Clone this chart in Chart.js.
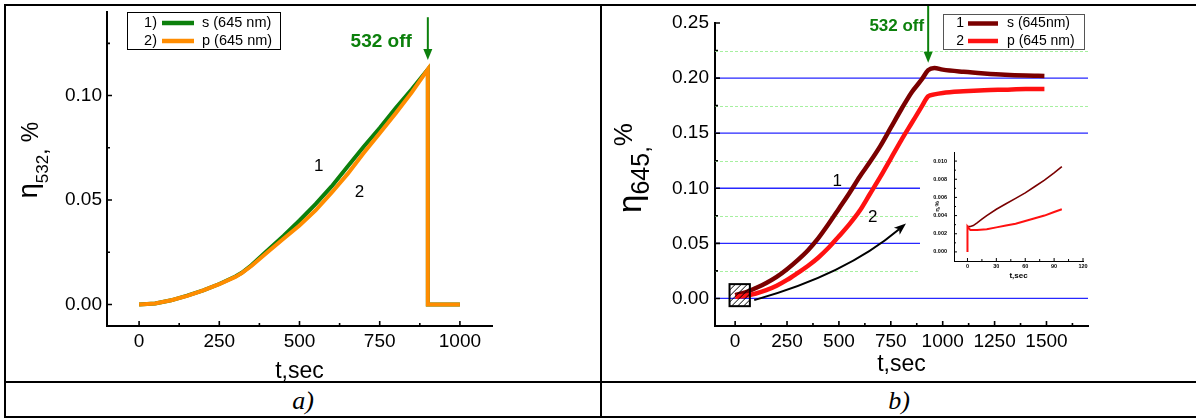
<!DOCTYPE html>
<html>
<head>
<meta charset="utf-8">
<script src="https://cdn.jsdelivr.net/npm/chart.js@4"></script>
<style>
  body { margin: 0; background: #fff; width: 1196px; height: 419px; overflow: hidden; position: relative; }
  canvas { position: absolute; }
  .rule { position: absolute; background: #000; }
  .cap { position: absolute; top: 386px; width: 594px; text-align: center; font: italic 26px "Liberation Serif", serif; }
</style>
</head>
<body>
<div class="rule" style="left:4px;top:4px;width:1192px;height:2px"></div>
<div class="rule" style="left:4px;top:4px;width:2px;height:414px"></div>
<div class="rule" style="left:600px;top:4px;width:2px;height:414px"></div>
<div class="rule" style="left:4px;top:381px;width:1192px;height:2px"></div>
<div class="rule" style="left:4px;top:416px;width:1192px;height:2px"></div>

<canvas id="ca" width="594" height="375" style="left:6px;top:6px"></canvas>
<canvas id="cb" width="594" height="375" style="left:602px;top:6px"></canvas>
<canvas id="ci" width="172" height="153" style="left:920px;top:143px;background:#fff"></canvas>

<div class="cap" style="left:6px">a)</div>
<div class="cap" style="left:602px">b)</div>

<script>
// ---------- panel a ----------
const tA = [0, 50, 100, 150, 200, 250, 300, 320, 350, 400, 450, 500, 550, 600, 650, 700, 750, 800, 850, 900, 900, 1000];
const sA = [0, 0.0005, 0.002, 0.0042, 0.0068, 0.0098, 0.0134, 0.0152, 0.0188, 0.0258, 0.0328, 0.0402, 0.048, 0.0565, 0.066, 0.0755, 0.0845, 0.094, 0.103, 0.1125, 0, 0];
const pA = [0, 0.0005, 0.002, 0.0041, 0.0067, 0.0097, 0.0132, 0.015, 0.0184, 0.025, 0.0315, 0.0378, 0.045, 0.0535, 0.0625, 0.0725, 0.082, 0.0915, 0.1015, 0.1125, 0, 0];
const namesA = ['s (645 nm)', 'p (645 nm)'];
const tagsA = ['1)', '2)'];
const colorsA = ['#0c800c', '#ff8c00'];
const xTicksA = [0, 250, 500, 750, 1000];
const xMinorA = [125, 375, 625, 875];
const yTicksA = [0, 0.05, 0.10];
const yMinorA = [0.025, 0.075, 0.125];

// ---------- panel b ----------
const tB = [0, 50, 100, 150, 200, 250, 300, 350, 400, 450, 500, 550, 600, 650, 700, 750, 800, 850, 900, 930, 960, 1000, 1100, 1200, 1300, 1400, 1490];
const sB = [0.003, 0.0055, 0.0095, 0.014, 0.0195, 0.0265, 0.0345, 0.0435, 0.0545, 0.0675, 0.0815, 0.0955, 0.1105, 0.124, 0.1385, 0.155, 0.1715, 0.187, 0.199, 0.2072, 0.2092, 0.2077, 0.2057, 0.2042, 0.203, 0.2023, 0.202];
const pB = [0.0015, 0.0025, 0.0045, 0.0075, 0.0115, 0.0168, 0.023, 0.0295, 0.037, 0.046, 0.0565, 0.0672, 0.0795, 0.095, 0.1105, 0.127, 0.1435, 0.159, 0.1745, 0.1835, 0.1852, 0.1865, 0.188, 0.189, 0.1895, 0.19, 0.19];
const namesB = ['s (645nm)', 'p (645 nm)'];
const tagsB = ['1', '2'];
const colorsB = ['#7a0000', '#ff1111'];
const xTicksB = [0, 250, 500, 750, 1000, 1250, 1500];
const xMinorB = [125, 375, 625, 875, 1125, 1375, 1625];
const yTicksB = [0, 0.05, 0.10, 0.15, 0.20, 0.25];
const yMinorB = [0.025, 0.075, 0.125, 0.175, 0.225];

// ---------- inset of b ----------
const tInS = [0, 3, 6, 10, 15, 20, 30, 40, 50, 60, 70, 80, 90, 98];
const sIn = [0.0028, 0.0028, 0.0029, 0.0032, 0.0036, 0.004, 0.0047, 0.0053, 0.0059, 0.0065, 0.0072, 0.0079, 0.0087, 0.0094];
const tInP = [0, 0, 3, 10, 20, 30, 40, 50, 60, 70, 80, 90, 98];
const pIn = [0, 0.0028, 0.0024, 0.0024, 0.0025, 0.0027, 0.0029, 0.0031, 0.0034, 0.0037, 0.004, 0.0044, 0.0047];
const xTicksIn = [0, 30, 60, 90, 120];
const xMinorIn = [15, 45, 75, 105];
const yTicksIn = [0, 0.002, 0.004, 0.006, 0.008, 0.010];
const yMinorIn = [0.001, 0.003, 0.005, 0.007, 0.009];

const laserOff = 900;      // 532 nm switched off (panel a)
const laserOffB = 930;     // same moment on panel b's time axis

Chart.defaults.font.family = '"Liberation Sans", Arial, sans-serif';
Chart.defaults.color = '#000';

const pts = (xs, ys) => xs.map((x, i) => ({ x, y: ys[i] }));

function inwardTicks(chart, xMaj, xMin, yMaj, yMin, len, lw) {
  const { ctx, chartArea: a, scales: { x, y } } = chart;
  ctx.save();
  ctx.strokeStyle = '#000';
  ctx.lineWidth = lw;
  ctx.beginPath();
  xMaj.forEach(v => { const p = x.getPixelForValue(v); ctx.moveTo(p, a.bottom); ctx.lineTo(p, a.bottom - len[0]); });
  xMin.forEach(v => { const p = x.getPixelForValue(v); ctx.moveTo(p, a.bottom); ctx.lineTo(p, a.bottom - len[1]); });
  yMaj.forEach(v => { const p = y.getPixelForValue(v); ctx.moveTo(a.left, p); ctx.lineTo(a.left + len[0], p); });
  yMin.forEach(v => { const p = y.getPixelForValue(v); ctx.moveTo(a.left, p); ctx.lineTo(a.left + len[1], p); });
  ctx.stroke();
  ctx.restore();
}

// rotated axis title made of pieces (for the subscripts)
function rotTitle(ctx, cx, cy, parts) {
  ctx.save();
  ctx.translate(cx, cy);
  ctx.rotate(-Math.PI / 2);
  let w = 0;
  parts.forEach(p => { ctx.font = p.f; p.w = ctx.measureText(p.t).width; w += p.w; });
  let x = -w / 2;
  ctx.fillStyle = '#000';
  ctx.textBaseline = 'alphabetic';
  parts.forEach(p => { ctx.font = p.f; ctx.fillText(p.t, x, p.dy); x += p.w; });
  ctx.restore();
}

function arrowDown(ctx, px, y0, y1, color) {
  ctx.save();
  ctx.strokeStyle = color;
  ctx.fillStyle = color;
  ctx.lineWidth = 2;
  ctx.beginPath(); ctx.moveTo(px, y0); ctx.lineTo(px, y1 - 8); ctx.stroke();
  ctx.beginPath(); ctx.moveTo(px - 4.5, y1 - 11); ctx.lineTo(px + 4.5, y1 - 11); ctx.lineTo(px, y1); ctx.closePath(); ctx.fill();
  ctx.restore();
}

function legendBox(ctx, box, rows, font, stroke) {
  ctx.save();
  ctx.fillStyle = '#fff';
  ctx.fillRect(box.x, box.y, box.w, box.h);
  ctx.strokeStyle = stroke;
  ctx.lineWidth = 1;
  ctx.strokeRect(box.x + 0.5, box.y + 0.5, box.w, box.h);
  ctx.font = font;
  ctx.textBaseline = 'middle';
  rows.forEach(r => {
    ctx.fillStyle = '#000';
    ctx.textAlign = 'right';
    ctx.fillText(r.tag, box.tagX, r.y);
    ctx.textAlign = 'left';
    ctx.fillText(r.text, box.textX, r.y);
    ctx.strokeStyle = r.color;
    ctx.lineWidth = 4.5;
    ctx.beginPath(); ctx.moveTo(box.l0, r.y); ctx.lineTo(box.l1, r.y); ctx.stroke();
  });
  ctx.restore();
}

function label(ctx, txt, px, py, font, color) {
  ctx.save();
  ctx.font = font;
  ctx.fillStyle = color;
  ctx.textAlign = 'center';
  ctx.textBaseline = 'middle';
  ctx.fillText(txt, px, py);
  ctx.restore();
}

// axes with fixed sizes so the plot box lands where the reference has it
function fixedScales(xr, yr, xw, yw, o) {
  const noPad = s => { s.paddingTop = s.paddingBottom = s.paddingLeft = s.paddingRight = 0; };
  return {
    x: {
      type: 'linear', min: xr[0], max: xr[1],
      afterFit: s => { s.height = xw; noPad(s); },
      afterBuildTicks: s => { s.ticks = o.xt.map(v => ({ value: v })); },
      grid: { display: false, drawTicks: false },
      border: { display: true, width: o.bw, color: '#000' },
      ticks: { font: o.tf, padding: o.xp, maxRotation: 0, autoSkip: false, callback: v => String(v) },
      title: o.xTitle
    },
    y: {
      type: 'linear', min: yr[0], max: yr[1],
      afterFit: s => { s.width = yw; noPad(s); },
      afterBuildTicks: s => { s.ticks = o.yt.map(v => ({ value: v })); },
      grid: { display: false, drawTicks: false },
      border: { display: true, width: o.bw, color: '#000' },
      ticks: { font: o.tf, padding: o.yp, autoSkip: false, callback: v => v.toFixed(o.dec) },
      title: o.yTitle || { display: false }
    }
  };
}

const lineOpts = { point: { radius: 0 }, line: { tension: 0, fill: false } };

// ---------- chart a ----------
const decoA = {
  id: 'decoA',
  afterDraw(chart) {
    const { ctx, scales: { x, y } } = chart;
    inwardTicks(chart, xTicksA, xMinorA, yTicksA, yMinorA, [5, 3], 1.6);
    rotTitle(ctx, 31, 154, [
      { t: 'η', f: '27px "Liberation Sans"', dy: 0 },
      { t: '532', f: '17px "Liberation Sans"', dy: 11 },
      { t: ',', f: '22px "Liberation Sans"', dy: 10 },
      { t: ' %', f: '23px "Liberation Sans"', dy: 1 }
    ]);
    const ax = x.getPixelForValue(laserOff);
    arrowDown(ctx, ax, y.getPixelForValue(0.1375), y.getPixelForValue(0.117), '#0c800c');
    ctx.save();
    ctx.font = 'bold 19px "Liberation Sans"';
    ctx.fillStyle = '#0c800c';
    ctx.textAlign = 'right';
    ctx.textBaseline = 'middle';
    ctx.fillText('532 off', ax - 16, 36);
    ctx.restore();
    label(ctx, '1', x.getPixelForValue(560), y.getPixelForValue(0.0663), '17px "Liberation Sans"', '#000');
    label(ctx, '2', x.getPixelForValue(687), y.getPixelForValue(0.0539), '17px "Liberation Sans"', '#000');
    legendBox(ctx, { x: 121, y: 6, w: 153, h: 37, tagX: 151, l0: 156, l1: 188, textX: 196 },
      namesA.map((n, i) => ({ tag: tagsA[i], text: n, color: colorsA[i], y: 17 + i * 18 })),
      '14.5px "Liberation Sans"', '#000');
  }
};

new Chart(document.getElementById('ca'), {
  type: 'line',
  data: {
    datasets: [
      { label: namesA[0], data: pts(tA, sA), borderColor: colorsA[0], borderWidth: 4, order: 2 },
      { label: namesA[1], data: pts(tA, pA), borderColor: colorsA[1], borderWidth: 4, order: 1 }
    ]
  },
  options: {
    responsive: false, animation: false,
    layout: { padding: { left: 0, top: 6, right: 108, bottom: 0 }, autoPadding: false },
    elements: lineOpts,
    plugins: { legend: { display: false }, tooltip: { enabled: false } },
    scales: fixedScales([-100, 1100], [-0.0103, 0.14], 55, 101, {
      xt: xTicksA, yt: yTicksA, bw: 2, tf: { size: 19 }, xp: 4, yp: 5, dec: 2,
      xTitle: { display: true, text: 't,sec', font: { size: 23, lineHeight: 1 }, padding: { top: 0, bottom: -2 } }
    })
  },
  plugins: [decoA]
});

// ---------- chart b ----------
const decoB = {
  id: 'decoB',
  beforeDatasetsDraw(chart) {
    const { ctx, chartArea: a, scales: { y } } = chart;
    ctx.save();
    ctx.lineWidth = 1;
    ctx.strokeStyle = '#a6f0a0';
    ctx.setLineDash([3, 2]);
    ctx.beginPath();
    yMinorB.forEach(v => { const p = Math.round(y.getPixelForValue(v)) + 0.5; ctx.moveTo(a.left, p); ctx.lineTo(a.right, p); });
    ctx.stroke();
    ctx.setLineDash([]);
    ctx.strokeStyle = '#2727ff';
    ctx.lineWidth = 1.3;
    ctx.beginPath();
    yTicksB.slice(0, -1).forEach(v => { const p = y.getPixelForValue(v); ctx.moveTo(a.left, p); ctx.lineTo(a.right, p); });
    ctx.stroke();
    ctx.restore();
  },
  afterDraw(chart) {
    const { ctx, scales: { x, y } } = chart;
    inwardTicks(chart, xTicksB, xMinorB, yTicksB, yMinorB, [5, 3], 1.6);
    rotTitle(ctx, 39, 162, [
      { t: 'η', f: '33px "Liberation Sans"', dy: 0 },
      { t: '645', f: '25px "Liberation Sans"', dy: 8 },
      { t: ',', f: '24px "Liberation Sans"', dy: 8 },
      { t: '%', f: '26px "Liberation Sans"', dy: -9 }
    ]);
    // hatched box marking the zoomed start
    const bx0 = x.getPixelForValue(-27), bx1 = x.getPixelForValue(71);
    const by0 = y.getPixelForValue(0.013), by1 = y.getPixelForValue(-0.007);
    ctx.save();
    ctx.beginPath(); ctx.rect(bx0, by0, bx1 - bx0, by1 - by0); ctx.clip();
    ctx.strokeStyle = '#000'; ctx.lineWidth = 1;
    ctx.beginPath();
    for (let k = -(by1 - by0); k < bx1 - bx0; k += 6) { ctx.moveTo(bx0 + k, by1); ctx.lineTo(bx0 + k + (by1 - by0), by0); }
    ctx.stroke();
    ctx.restore();
    ctx.save();
    ctx.lineWidth = 2; ctx.strokeStyle = '#000';
    ctx.strokeRect(bx0, by0, bx1 - bx0, by1 - by0);
    // curved arrow towards the inset
    const p0 = { x: x.getPixelForValue(92), y: y.getPixelForValue(-0.0015) };
    const p1 = { x: x.getPixelForValue(529), y: y.getPixelForValue(0.0213) };
    const p2 = { x: x.getPixelForValue(823), y: y.getPixelForValue(0.068) };
    const ang = Math.atan2(p2.y - p1.y, p2.x - p1.x);
    const hx = p2.x - 12 * Math.cos(ang), hy = p2.y - 12 * Math.sin(ang);
    ctx.beginPath(); ctx.moveTo(p0.x, p0.y); ctx.quadraticCurveTo(p1.x, p1.y, hx + 3 * Math.cos(ang), hy + 3 * Math.sin(ang)); ctx.stroke();
    ctx.fillStyle = '#000';
    ctx.beginPath();
    ctx.moveTo(p2.x, p2.y);
    ctx.lineTo(hx - 4.5 * Math.sin(ang), hy + 4.5 * Math.cos(ang));
    ctx.lineTo(hx + 3 * Math.cos(ang), hy + 3 * Math.sin(ang));
    ctx.lineTo(hx + 4.5 * Math.sin(ang), hy - 4.5 * Math.cos(ang));
    ctx.closePath(); ctx.fill();
    ctx.restore();
    const ax = x.getPixelForValue(laserOffB);
    arrowDown(ctx, ax, 0, y.getPixelForValue(0.214), '#0c800c');
    ctx.save();
    ctx.font = 'bold 17px "Liberation Sans"';
    ctx.fillStyle = '#0c800c';
    ctx.textAlign = 'right';
    ctx.textBaseline = 'middle';
    ctx.fillText('532 off', ax - 4, 20);
    ctx.restore();
    label(ctx, '1', x.getPixelForValue(492), y.getPixelForValue(0.1066), '17px "Liberation Sans"', '#000');
    label(ctx, '2', x.getPixelForValue(663), y.getPixelForValue(0.0733), '17px "Liberation Sans"', '#000');
    legendBox(ctx, { x: 341, y: 8, w: 141, h: 35, tagX: 362, l0: 366, l1: 396, textX: 405 },
      namesB.map((n, i) => ({ tag: tagsB[i], text: n, color: colorsB[i], y: 17.5 + i * 17.5 })),
      '14px "Liberation Sans"', '#555');
  }
};

new Chart(document.getElementById('cb'), {
  type: 'line',
  data: {
    datasets: [
      { label: namesB[0], data: pts(tB, sB), borderColor: colorsB[0], borderWidth: 4.5, cubicInterpolationMode: 'monotone', order: 2 },
      { label: namesB[1], data: pts(tB, pB), borderColor: colorsB[1], borderWidth: 4.5, cubicInterpolationMode: 'monotone', order: 1 }
    ]
  },
  options: {
    responsive: false, animation: false,
    layout: { padding: { left: 0, top: 17, right: 108, bottom: 0 }, autoPadding: false },
    elements: lineOpts,
    plugins: { legend: { display: false }, tooltip: { enabled: false } },
    scales: fixedScales([-97, 1700], [-0.025, 0.25], 55, 113, {
      xt: xTicksB, yt: yTicksB, bw: 2, tf: { size: 19 }, xp: 4, yp: 6, dec: 2,
      xTitle: { display: true, text: 't,sec', font: { size: 23, lineHeight: 1 }, padding: { top: 0, bottom: 4.5 } }
    })
  },
  plugins: [decoB]
});

// ---------- inset ----------
const decoIn = {
  id: 'decoIn',
  afterDraw(chart) {
    inwardTicks(chart, xTicksIn, xMinorIn, yTicksIn, yMinorIn, [3, 2], 1);
  }
};

new Chart(document.getElementById('ci'), {
  type: 'line',
  data: {
    datasets: [
      { label: namesB[0], data: pts(tInS, sIn), borderColor: colorsB[0], borderWidth: 1.6, order: 2 },
      { label: namesB[1], data: pts(tInP, pIn), borderColor: colorsB[1], borderWidth: 2, order: 1 }
    ]
  },
  options: {
    responsive: false, animation: false,
    layout: { padding: { left: 0, top: 9, right: 9, bottom: 0 }, autoPadding: false },
    elements: lineOpts,
    plugins: { legend: { display: false }, tooltip: { enabled: false } },
    scales: fixedScales([-14, 120], [-0.001, 0.011], 35, 34, {
      xt: xTicksIn, yt: yTicksIn, bw: 1, tf: { size: 5.5, weight: 'bold' }, xp: 1.7, yp: 7, dec: 3,
      xTitle: { display: true, text: 't,sec', font: { size: 8, weight: 'bold', lineHeight: 1 }, padding: { top: 0, bottom: 16 } },
      yTitle: { display: true, text: 'η,%', font: { size: 6, weight: 'bold', lineHeight: 1 }, padding: { top: 14, bottom: 0 } }
    })
  },
  plugins: [decoIn]
});
</script>
</body>
</html>
